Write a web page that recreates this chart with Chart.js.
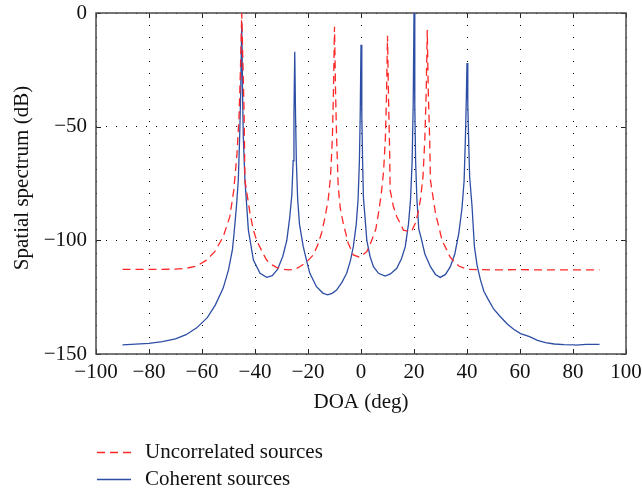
<!DOCTYPE html>
<html>
<head>
<meta charset="utf-8">
<script src="https://cdn.jsdelivr.net/npm/chart.js@4"></script>
<style>
  html, body { margin: 0; padding: 0; background: #fff; }
  #wrap { width: 642px; height: 489px; }
</style>
</head>
<body>
<div id="wrap"><canvas id="myChart" width="642" height="489"></canvas></div>
<script>
/*global Chart*/

// Coherent sources (blue, solid)
const coherentDoa = [
    -90, -85, -80, -75, -70, -66, -62, -58, -55, -52, -50, -48.5, -47.9, -47, -46.3, -45.8, -45.4, -45,
    -44.7, -44.4, -43.8, -42.5, -40.6, -38.1, -35.6, -33.5, -31.5, -29.5, -28, -26.9, -26.1, -25.6, -25.3, -25,
    -24.7, -24.4, -23.9, -23.2, -21.8, -20.3, -19.3, -16.8, -14.4, -12.6, -10.9, -9.2, -7.2, -5.4, -3.9, -2.9,
    -1.8, -1.1, -0.6, -0.3, 0, 0.3, 0.6, 0.9, 2.2, 3.4, 4.7, 6.6, 9.1, 11.1, 13.5, 15.3, 16.7, 17.9, 18.7,
    19.3, 19.7, 20, 20.3, 20.6, 21.1, 21.8, 22.8, 24.1, 26.2, 28.1, 29.9, 31.9, 33.7, 35.4, 36.9, 38.1, 38.9,
    39.4, 39.7, 40, 40.3, 40.6, 41, 41.9, 42.8, 43.8, 45.1, 46.4, 48.1, 50.1, 52.6, 55.2, 57.6, 60.2, 63.6,
    66.6, 69.6, 72.9, 76.6, 80.5, 81, 85, 90
];
const coherentDb = [
    -146, -145.7, -145.3, -144.6, -143.3, -141.5, -138.5, -134, -128.5, -121, -113, -104, -96.9, -85, -73.5, -55, -35, -4,
    -35, -55, -73.5, -95.5, -108.7, -114.5, -116.3, -115.5, -112.8, -107, -100, -90, -80, -65, -45, -17,
    -45, -65, -82, -93, -102.8, -110, -114.5, -120.4, -123.2, -124, -123.3, -121.9, -118.5, -114.5, -108.5, -102.8,
    -93, -82, -65, -45, -14, -45, -65, -80.8, -100, -107, -111.6, -114.5, -115.7, -114.8, -112.3, -108, -102.8, -93, -82,
    -65, -40, 0, -40, -65, -82, -95, -99.5, -106, -111.6, -115, -116.3, -115, -111.6, -106, -96.9, -86, -74,
    -55, -40, -22, -40, -55, -72, -85, -102.8, -111, -117.5, -122.5, -126.2, -130.3, -133.6, -136.8, -139.1, -141, -142.4, -144,
    -145, -145.6, -145.9, -146, -146.1, -145.8, -145.8, -145.8
];

// Uncorrelated sources (red, dashed)
const uncorrDoa = [
    -90, -80, -70, -66, -62, -58.3, -55.2, -52, -49.5, -48, -46.8, -46, -45.5, -45, -44.5, -44.1, -43.8,
    -42.7, -41.9, -40.7, -39.4, -37, -35.6, -33.5, -31.9, -29.5, -27.5, -25, -23.1, -20.5, -18, -16.3, -14.9,
    -13.6, -12.4, -11.5, -10.8, -10.4, -10, -9.6, -9.2, -8.6, -7.8, -6.7, -4.8, -2.9, -0.5, 2.2, 4.1, 5.6,
    6.6, 7.6, 8.5, 9.2, 9.6, 10, 10.4, 10.8, 11, 12.2, 13.5, 15, 16, 18.3, 19.3, 20.5, 21.5, 22.4, 23.4, 24.1,
    24.6, 25, 25.4, 25.9, 26.2, 28.1, 30.6, 33.7, 36.9, 40.1, 50, 60, 70, 80, 90
];
const uncorrDb = [
    -112.8, -112.8, -112.7, -112.3, -111.3, -108.7, -105, -98.4, -89.6, -77.9, -62, -45, -25, 0, -25, -45, -73.5,
    -82, -88, -95, -100, -105.7, -108.7, -110.8, -111.9, -112.7, -113, -112.8, -111.6, -109.5, -106.4, -102, -96.9,
    -90, -82.3, -72, -55, -35, -6, -35, -55, -76.4, -86, -92.5, -101.3, -106.4, -107.5, -105, -99.9, -95,
    -88, -80, -70, -55, -38, -10, -38, -60, -77.9, -85, -89.6, -93, -95.5, -96.2, -95.5, -92.5, -88, -82.3, -72, -55,
    -35, -7.5, -35, -55, -73.5, -88, -100, -107.5, -111.3, -112.8, -113, -112.9, -113, -113, -113
];

const xTicks = [-100, -80, -60, -40, -20, 0, 20, 40, 60, 80, 100];
const yTicks = [-150, -100, -50, 0];

const seriesNames = ['Uncorrelated sources', 'Coherent sources'];
const seriesColors = ['rgb(255, 40, 40)', 'rgb(45, 78, 165)'];
const yTitle = 'Spatial spectrum (dB)';

const serif = "'Liberation Serif', 'DejaVu Serif', serif";
const toPoints = (xs, ys) => xs.map((v, i) => ({x: v, y: ys[i]}));
const minus = v => String(v).replace('-', '\u2212');

// box, inward tick marks, y title and the legend under the axis title
const frame = {
    id: 'frame',
    beforeDatasetsDraw(chart) {
        const {ctx, chartArea: a, scales: {x, y}} = chart;
        ctx.save();
        ctx.strokeStyle = '#222';
        ctx.lineWidth = 1;
        ctx.beginPath();
        xTicks.forEach(t => {
            const px = Math.round(x.getPixelForValue(t)) + 0.5;
            ctx.moveTo(px, a.bottom); ctx.lineTo(px, a.bottom - 5);
            ctx.moveTo(px, a.top); ctx.lineTo(px, a.top + 5);
        });
        yTicks.forEach(t => {
            const py = Math.round(y.getPixelForValue(t)) + 0.5;
            ctx.moveTo(a.left, py); ctx.lineTo(a.left + 5, py);
            ctx.moveTo(a.right, py); ctx.lineTo(a.right - 5, py);
        });
        ctx.stroke();
        ctx.strokeStyle = '#4a4a4a';
        ctx.lineWidth = 1.5;
        ctx.strokeRect(a.left, a.top, a.right - a.left, a.bottom - a.top);
        ctx.restore();
    },
    afterDraw(chart) {
        const ctx = chart.ctx;
        const rows = [452, 479];
        ctx.save();
        ctx.font = '21px ' + serif;
        ctx.textBaseline = 'middle';
        ctx.fillStyle = '#111';
        rows.forEach((ry, i) => {
            ctx.strokeStyle = seriesColors[i];
            ctx.lineWidth = 1.3;
            ctx.setLineDash(i === 0 ? [8, 5] : []);
            ctx.beginPath();
            ctx.moveTo(97, ry + 0.5);
            ctx.lineTo(131, ry + 0.5);
            ctx.stroke();
            ctx.fillText(seriesNames[i], 145, ry);
        });
        ctx.translate(22, 178);
        ctx.rotate(-Math.PI / 2);
        ctx.textAlign = 'center';
        ctx.fillText(yTitle, 0, 0);
        ctx.restore();
    }
};

const config = {
    type: 'line',
    data: {
        datasets: [
            {
                label: seriesNames[0],
                data: toPoints(uncorrDoa, uncorrDb),
                borderColor: seriesColors[0],
                borderWidth: 1.3,
                borderDash: [8, 5],
                pointRadius: 0,
                tension: 0,
            },
            {
                label: seriesNames[1],
                data: toPoints(coherentDoa, coherentDb),
                borderColor: seriesColors[1],
                borderWidth: 1.3,
                pointRadius: 0,
                tension: 0,
            }
        ]
    },
    options: {
        responsive: false,
        animation: false,
        layout: {
            padding: {top: 13, right: 16, bottom: 70, left: 0}
        },
        plugins: {
            legend: {display: false},
            tooltip: {enabled: false}
        },
        scales: {
            x: {
                type: 'linear',
                min: -100,
                max: 100,
                afterBuildTicks: s => { s.ticks = xTicks.map(v => ({value: v})); },
                afterFit: s => { s.height = 65; s.paddingLeft = 0; s.paddingRight = 0; },
                grid: {color: '#000', lineWidth: 1, drawTicks: false},
                border: {display: false, dash: [1, 11]},
                ticks: {
                    color: '#111',
                    padding: 6,
                    maxRotation: 0,
                    font: {family: serif, size: 21},
                    callback: v => minus(v)
                },
                title: {
                    display: true,
                    text: 'DOA (deg)',
                    color: '#111',
                    font: {family: serif, size: 21}
                }
            },
            y: {
                type: 'linear',
                min: -150,
                max: 0,
                afterBuildTicks: s => { s.ticks = yTicks.map(v => ({value: v})); },
                afterFit: s => { s.width = 96; s.paddingTop = 0; s.paddingBottom = 0; },
                grid: {color: '#000', lineWidth: 1, drawTicks: false},
                border: {display: false, dash: [1, 9]},
                ticks: {
                    color: '#111',
                    padding: 9,
                    font: {family: serif, size: 21},
                    callback: v => minus(v)
                }
            }
        }
    },
    plugins: [frame]
};

/*eslint-disable no-unused-vars*/
const graphe = new Chart(document.getElementById('myChart'), config);
</script>
</body>
</html>
